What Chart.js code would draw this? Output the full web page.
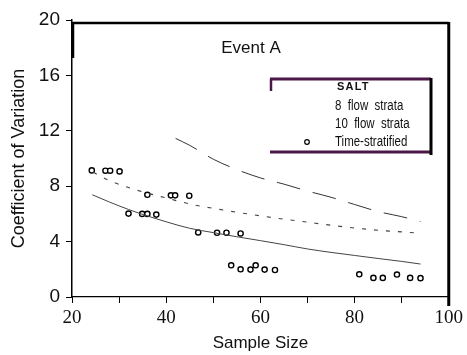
<!DOCTYPE html>
<html>
<head>
<meta charset="utf-8">
<script src="https://cdn.jsdelivr.net/npm/chart.js@4/dist/chart.umd.min.js"></script>
<style>
html,body{margin:0;padding:0;background:#fff;}
#wrap{width:467px;height:355px;}
</style>
</head>
<body>
<div id="wrap"><canvas id="c" width="467" height="355"></canvas></div>
<script>
// ---- data ----
const chartTitle = "Event A";
const xTitle = "Sample Size";
const yTitle = "Coefficient of Variation";
const xTickLabels = [20, 40, 60, 80, 100];
const yTickLabels = [0, 4, 8, 12, 16, 20];

// Time-stratified samples (circles)
const timeStratN  = [24.2, 27.1, 28.1, 30.1, 32.0, 34.9, 36.0, 36.0, 37.9, 41.0, 41.9, 44.9, 46.8, 50.8, 52.8, 55.8, 53.8, 55.8, 57.9, 59.0, 60.9, 63.1, 81.0, 84.0, 86.0, 89.0, 91.8, 94.0];
const timeStratCV = [9.14, 9.12, 9.12, 9.07, 6.02, 6.00, 6.00, 7.38, 5.95, 7.34, 7.34, 7.31, 4.66, 4.64, 4.64, 4.59, 2.29, 2.00, 1.98, 2.29, 1.98, 1.95, 1.64, 1.38, 1.38, 1.62, 1.38, 1.36];

// SALT (long dashed curve)
const saltN  = [42, 45, 50, 55, 60, 65, 70, 75, 80, 85, 90, 94];
const saltCV = [11.45, 10.95, 9.95, 9.2, 8.6, 8.15, 7.65, 7.2, 6.68, 6.17, 5.8, 5.45];

// 8 flow strata (short dashed curve)
const strata8N  = [24.5, 28, 32, 36, 40, 45, 50, 55, 60, 65, 70, 75, 80, 85, 90, 94];
const strata8CV = [9.0, 8.4, 7.9, 7.5, 7.15, 6.72, 6.4, 6.12, 5.86, 5.62, 5.4, 5.18, 4.98, 4.82, 4.7, 4.6];

// 10 flow strata (solid curve)
const strata10N  = [24.3, 28, 32, 36, 40, 45, 50, 55, 60, 65, 70, 75, 80, 85, 90, 94];
const strata10CV = [7.38, 6.85, 6.32, 5.85, 5.43, 4.96, 4.65, 4.35, 4.07, 3.78, 3.47, 3.22, 3.0, 2.78, 2.57, 2.38];

const legendTitle = "SALT";
const legendItems = ["8  flow  strata", "10  flow  strata", "Time-stratified"];

const pts = (xs, ys) => xs.map((x, i) => ({x: x, y: ys[i]}));

const framePlugin = {
  id: 'frame',
  afterDraw(chart) {
    const ctx = chart.ctx, ca = chart.chartArea;
    ctx.save();
    ctx.strokeStyle = '#000';
    // top border
    ctx.lineWidth = 2.5;
    ctx.beginPath(); ctx.moveTo(ca.left, ca.top + 3); ctx.lineTo(ca.right, ca.top + 3); ctx.stroke();
    // right border
    ctx.lineWidth = 3;
    ctx.beginPath(); ctx.moveTo(ca.right, ca.top + 2); ctx.lineTo(ca.right, ca.bottom + 9); ctx.stroke();
    // thicker top part of left border
    ctx.lineWidth = 2.5;
    ctx.beginPath(); ctx.moveTo(ca.left + 1, ca.top + 2); ctx.lineTo(ca.left + 1, ca.top + 38); ctx.stroke();

    // chart title
    ctx.fillStyle = '#111';
    ctx.font = '17px "Liberation Sans", Arial, sans-serif';
    ctx.textAlign = 'center'; ctx.textBaseline = 'middle';
    ctx.fillText(chartTitle, 251, 48);

    // legend box
    const L = 270, T = 79, R = 431, B = 152;
    ctx.fillStyle = '#fff';
    ctx.fillRect(L, T, R - L, B - T);
    ctx.strokeStyle = '#4a1848';
    ctx.lineWidth = 3;
    ctx.beginPath(); ctx.moveTo(L, T); ctx.lineTo(R, T); ctx.stroke();
    ctx.beginPath(); ctx.moveTo(L, B); ctx.lineTo(R, B); ctx.stroke();
    ctx.lineWidth = 2.5;
    ctx.beginPath(); ctx.moveTo(L + 1, T); ctx.lineTo(L + 1, T + 12); ctx.stroke();
    ctx.strokeStyle = '#000';
    ctx.lineWidth = 3;
    ctx.beginPath(); ctx.moveTo(R, T - 1); ctx.lineTo(R, B + 3); ctx.stroke();

    ctx.fillStyle = '#111';
    ctx.textAlign = 'left';
    ctx.font = 'bold 11px "Liberation Sans", Arial, sans-serif';
    try { ctx.letterSpacing = '1.2px'; } catch (e) {}
    ctx.fillText(legendTitle, 337, 87);
    try { ctx.letterSpacing = '0px'; } catch (e) {}
    ctx.font = '14px "Liberation Sans", Arial, sans-serif';
    const ys = [106, 124, 142];
    legendItems.forEach((t, i) => {
      ctx.save();
      ctx.translate(335, ys[i]);
      ctx.scale(0.82, 1);
      ctx.fillText(t, 0, 0);
      ctx.restore();
    });
    // marker for time-stratified
    ctx.strokeStyle = '#000'; ctx.lineWidth = 1.2;
    ctx.beginPath(); ctx.arc(307, 142, 2.3, 0, Math.PI * 2); ctx.stroke();
    ctx.restore();
  }
};

new Chart(document.getElementById('c'), {
  type: 'scatter',
  data: {
    datasets: [
      {
        label: 'SALT', data: pts(saltN, saltCV), type: 'line', showLine: true,
        borderColor: '#333', borderWidth: 1, borderDash: [24, 13], pointRadius: 0,
        cubicInterpolationMode: 'monotone', fill: false
      },
      {
        label: '8 flow strata', data: pts(strata8N, strata8CV), type: 'line', showLine: true,
        borderColor: '#444', borderWidth: 1.1, borderDash: [4, 8], pointRadius: 0,
        cubicInterpolationMode: 'monotone', fill: false
      },
      {
        label: '10 flow strata', data: pts(strata10N, strata10CV), type: 'line', showLine: true,
        borderColor: '#444', borderWidth: 1, pointRadius: 0,
        cubicInterpolationMode: 'monotone', fill: false
      },
      {
        label: 'Time-stratified', data: pts(timeStratN, timeStratCV), showLine: false,
        pointStyle: 'circle', pointRadius: 2.6, pointBorderWidth: 1.4,
        pointBorderColor: '#000', pointBackgroundColor: '#fff'
      }
    ]
  },
  options: {
    responsive: false,
    animation: false,
    devicePixelRatio: 1,
    layout: { padding: { left: 0, right: 12, top: 20, bottom: 0 } },
    plugins: { legend: { display: false }, tooltip: { enabled: false }, title: { display: false } },
    scales: {
      x: {
        type: 'linear', min: 20, max: 100,
        afterFit(s) { s.height = 58; },
        border: { display: true, color: '#000', width: 1.2 },
        grid: { drawOnChartArea: false, drawTicks: true, tickLength: 6, color: '#000', lineWidth: 1 },
        ticks: {
          stepSize: 10, padding: 4, color: '#111', maxRotation: 0, autoSkip: false,
          font: { family: '"Liberation Serif", "Times New Roman", serif', size: 19 },
          callback: (v) => xTickLabels.includes(v) ? String(v) : ''
        },
        title: {
          display: true, text: xTitle, color: '#111',
          font: { family: '"Liberation Sans", Arial, sans-serif', size: 17 },
          padding: { top: 0, bottom: 1 }
        }
      },
      y: {
        type: 'linear', min: 0, max: 20,
        afterFit(s) { s.width = 72; },
        border: { display: true, color: '#000', width: 1.5 },
        grid: { drawOnChartArea: false, drawTicks: true, tickLength: 6, color: '#000', lineWidth: 1 },
        ticks: {
          stepSize: 4, padding: 6, color: '#111',
          font: { family: '"Liberation Sans", Arial, sans-serif', size: 19 },
          callback: (v) => yTickLabels.includes(v) ? String(v) : ''
        },
        title: {
          display: true, text: yTitle, color: '#111',
          font: { family: '"Liberation Sans", Arial, sans-serif', size: 18 },
          padding: { top: 8, bottom: 0 }
        }
      }
    }
  },
  plugins: [framePlugin]
});
</script>
</body>
</html>
